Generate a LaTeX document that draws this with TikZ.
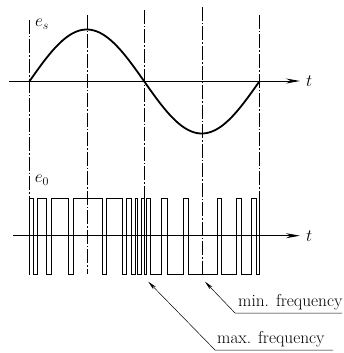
\documentclass[tikz,border=0pt]{standalone}
\usepackage{tikz}
\usetikzlibrary{positioning,arrows.meta}

\begin{document}
\begin{tikzpicture}[
  x=1pt,y=-1pt,
  axis/.style={line width=0.9pt,-{Stealth[length=14pt,width=5pt]}},
  wave/.style={line width=1.8pt,line join=round},
  pulse/.style={line width=1pt},
  guide/.style={line width=0.5pt,dash pattern=on 14pt off 2pt on 1.5pt off 2pt},
  lead/.style={line width=0.5pt,-{Stealth[length=9pt,width=3.5pt]}},
  lbl/.style={font=\fontsize{17.3}{19}\selectfont,inner sep=1pt},
  sym/.style={font=\fontsize{17}{19}\selectfont,inner sep=0pt}
]
\useasboundingbox (0,0) rectangle (343,353);

% guide lines through the sine's zeros and extremes
\foreach \x/\ya/\yb in {29.3/20/274, 87/15/274, 144.3/10/200, 201.8/7/274, 259.3/15/274}
  \draw[guide] (\x,\ya) -- (\x,\yb);

% signal e_s
\coordinate (sa) at (9,81);
\coordinate (sb) at (300,81);
\draw[axis] (sa) -- (sb);
\node[sym,right=6pt of sb] (ts) {$t$};
\node[sym] (es) at (42,24) {$e_s$};
\draw[wave] plot[domain=29.3:259.3,samples=120,smooth] (\x,{81.5-52*sin((\x-29.3)/230*360)});

% pulse train e_0
\coordinate (pa) at (13,235.7);
\coordinate (pb) at (300,235.7);
\draw[axis] (pa) -- (pb);
\node[sym,right=6pt of pb] (tp) {$t$};
\node[sym] (eo) at (42,180) {$e_0$};
\draw[pulse] (29.3,274)
  foreach \a/\b in {29.3/33.3, 37.3/46.7, 51.5/68, 73/102, 106/122.7, 126.7/131.7,
    135/137.7, 141.7/144.3, 146.7/150, 161.7/167.3, 183.3/188, 217.7/221.7,
    236.7/241.7, 251.7/256}
  { -- (\a,274) -- (\a,198) -- (\b,198) -- (\b,274) }
  -- (259.3,274) -- (259.3,198);

% labels
\coordinate (minarr) at (205,281.7);
\coordinate (minbase) at (235,313);
\coordinate (minend) at (342,313);
\node[lbl,anchor=south west] (minlbl) at (237,311) {min. frequency};
\draw[lead] (minend) -- (minbase) -- (minarr);

\coordinate (maxarr) at (148.3,281.7);
\coordinate (maxbase) at (215,350);
\coordinate (maxend) at (333,350);
\node[lbl,anchor=south west] (maxlbl) at (216,348) {max. frequency};
\draw[lead] (maxend) -- (maxbase) -- (maxarr);
\end{tikzpicture}
\end{document}
